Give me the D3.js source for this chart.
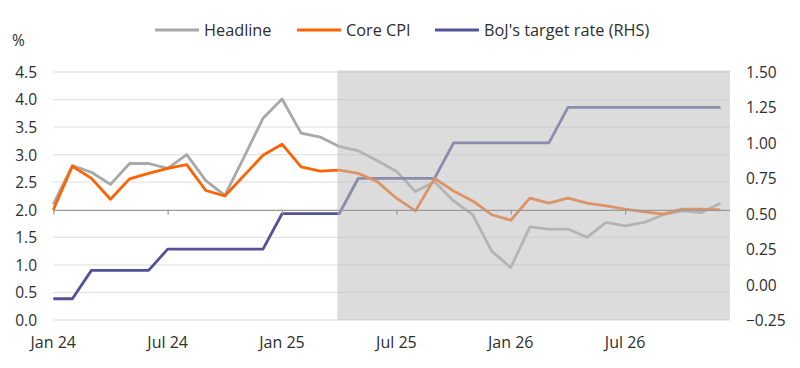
<!DOCTYPE html>
<html>
<head>
<meta charset="utf-8">
<script src="https://cdn.jsdelivr.net/npm/d3@7"></script>
<style>
  html, body { margin: 0; padding: 0; background: #fff; }
  svg { display: block; font-family: "Open Sans", "Noto Sans", sans-serif; }
</style>
</head>
<body>
<svg id="chart" width="800" height="368"></svg>
<script>
// ---- data ----
const months = ["Jan 24","Feb 24","Mar 24","Apr 24","May 24","Jun 24","Jul 24","Aug 24","Sep 24","Oct 24","Nov 24","Dec 24",
                "Jan 25","Feb 25","Mar 25","Apr 25","May 25","Jun 25","Jul 25","Aug 25","Sep 25","Oct 25","Nov 25","Dec 25",
                "Jan 26","Feb 26","Mar 26","Apr 26","May 26","Jun 26","Jul 26","Aug 26","Sep 26","Oct 26","Nov 26","Dec 26"];
const headline = [2.1, 2.8, 2.68, 2.46, 2.84, 2.84, 2.75, 3.0, 2.53, 2.26, 2.95, 3.66,
                  4.01, 3.39, 3.32, 3.15, 3.07, 2.89, 2.70, 2.33, 2.51, 2.16, 1.91, 1.25,
                  0.95, 1.69, 1.65, 1.65, 1.50, 1.77, 1.71, 1.77, 1.91, 1.98, 1.95, 2.12];
const core = [2.0, 2.79, 2.57, 2.19, 2.56, 2.66, 2.75, 2.82, 2.35, 2.25, 2.62, 2.99,
              3.19, 2.78, 2.70, 2.72, 2.66, 2.51, 2.21, 1.98, 2.57, 2.34, 2.16, 1.91,
              1.81, 2.21, 2.12, 2.21, 2.12, 2.07, 2.01, 1.96, 1.92, 2.01, 2.01, 2.0];
const boj = [-0.1, -0.1, 0.1, 0.1, 0.1, 0.1, 0.25, 0.25, 0.25, 0.25, 0.25, 0.25,
             0.5, 0.5, 0.5, 0.5, 0.75, 0.75, 0.75, 0.75, 0.75, 1.0, 1.0, 1.0,
             1.0, 1.0, 1.0, 1.25, 1.25, 1.25, 1.25, 1.25, 1.25, 1.25, 1.25, 1.25];
const leftTicks = [0, 0.5, 1.0, 1.5, 2.0, 2.5, 3.0, 3.5, 4.0, 4.5];
const rightTicks = [-0.25, 0, 0.25, 0.5, 0.75, 1.0, 1.25, 1.5];
const xTickLabels = ["Jan 24", "Jul 24", "Jan 25", "Jul 25", "Jan 26", "Jul 26"];
const forecastStartMonth = 14.9; // shaded forecast period start (month index)
const seriesNames = ["Headline", "Core CPI", "BoJ's target rate (RHS)"];

// ---- layout ----
const svg = d3.select("#chart");
const plotL = 53.3, plotR = 730, plotT = 72, plotB = 320;
const colors = { headline: "#a8a8a8", core: "#ff6200", boj: "#525199" };
const textColor = "#2e2e2e";

const x = d3.scaleLinear().domain([0, 35.5]).range([plotL, plotR]);
const yL = d3.scaleLinear().domain([0, 4.5]).range([plotB, plotT]);
const yR = d3.scaleLinear().domain([-0.25, 1.5]).range([plotB, plotT]);

// gridlines
svg.append("g").selectAll("line").data(leftTicks.filter(d => d !== 2.0)).join("line")
  .attr("x1", plotL).attr("x2", plotR)
  .attr("y1", d => yL(d)).attr("y2", d => yL(d))
  .attr("stroke", "#e4e4e4").attr("stroke-width", 1.3);

// lines
const lineL = d3.line().x((d, i) => x(i)).y(d => yL(d));
const lineR = d3.line().x((d, i) => x(i)).y(d => yR(d));
const drawLine = (data, gen, color) => svg.append("path").datum(data)
  .attr("d", gen).attr("fill", "none").attr("stroke", color)
  .attr("stroke-width", 2.8).attr("stroke-linejoin", "round");
drawLine(headline, lineL, colors.headline);
drawLine(boj, lineR, colors.boj);
drawLine(core, lineL, colors.core);

// forecast shade (overlay)
svg.append("rect")
  .attr("x", x(forecastStartMonth)).attr("y", yL(4.5) - 1.5)
  .attr("width", plotR - x(forecastStartMonth)).attr("height", plotB - yL(4.5) + 1.5)
  .attr("fill", "rgb(190,190,190)").attr("fill-opacity", 0.54);

// x axis line at 2.0 with ticks
const xAxis = d3.axisBottom(x)
  .tickValues(xTickLabels.map(l => months.indexOf(l)))
  .tickSize(5).tickFormat("");
const gx = svg.append("g").attr("transform", `translate(0,${yL(2.0)})`).call(xAxis);
gx.select(".domain").attr("d", `M${plotL},0.5H${plotR}`).attr("stroke", "#9a9a9a").attr("stroke-width", 1.2);
gx.selectAll(".tick line").attr("stroke", "#9a9a9a").attr("stroke-width", 1.2);

// x labels
svg.append("g").selectAll("text").data(xTickLabels).join("text")
  .attr("x", d => x(months.indexOf(d))).attr("y", 348)
  .attr("text-anchor", "middle").attr("font-size", 16).attr("fill", textColor)
  .text(d => d);

// left axis labels
const yAxisL = d3.axisLeft(yL).tickValues(leftTicks).tickFormat(d3.format(".1f")).tickSize(0).tickPadding(0);
const gl = svg.append("g").attr("transform", "translate(37,0)").call(yAxisL);
gl.select(".domain").remove();
gl.selectAll("text").attr("font-size", 15.5).attr("fill", textColor).attr("font-family", "Open Sans").attr("dy", "0.35em");

// right axis labels
const yAxisR = d3.axisRight(yR).tickValues(rightTicks).tickFormat(d3.format(".2f")).tickSize(0).tickPadding(0);
const gr = svg.append("g").attr("transform", "translate(746,0)").call(yAxisR);
gr.select(".domain").remove();
gr.selectAll("text").attr("font-size", 15.5).attr("fill", textColor).attr("font-family", "Open Sans").attr("dy", "0.35em");

// unit label
svg.append("text").attr("x", 12).attr("y", 46).attr("font-size", 15.5).attr("fill", textColor).text("%");

// legend
const legendX = [155, 297, 435];
const legendColors = [colors.headline, colors.core, colors.boj];
const lg = svg.append("g").selectAll("g").data(seriesNames).join("g")
  .attr("transform", (d, i) => `translate(${legendX[i]},30)`);
lg.append("line").attr("x1", 0).attr("x2", 44).attr("y1", 0).attr("y2", 0)
  .attr("stroke", (d, i) => legendColors[i]).attr("stroke-width", 3);
lg.append("text").attr("x", 49).attr("y", 0).attr("dy", "0.35em")
  .attr("font-size", 16.3).attr("fill", textColor).text(d => d);
</script>
</body>
</html>
